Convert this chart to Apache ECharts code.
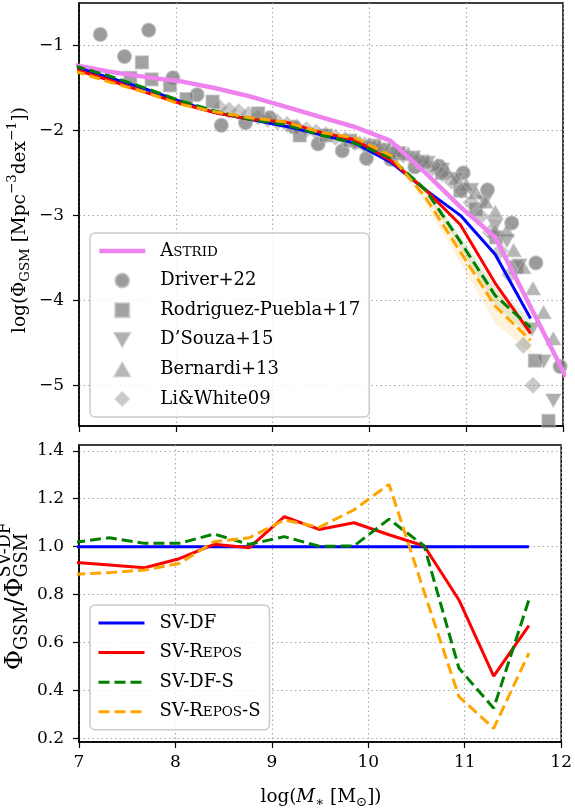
<!DOCTYPE html>
<html>
<head>
<meta charset="utf-8">
<script src="https://cdn.jsdelivr.net/npm/echarts@6/dist/echarts.min.js"></script>
<style>
html,body{margin:0;padding:0;background:#fff;}
#chart{width:575px;height:808px;}
</style>
</head>
<body>
<div id="chart"></div>
<script>
// ---------------- data ----------------
const massBins = [6.95, 7.315, 7.68, 8.04, 8.40, 8.765, 9.13, 9.49, 9.85, 10.215, 10.58, 10.94, 11.30, 11.665];
const astridX = [6.95, 7.315, 7.68, 8.04, 8.40, 8.765, 9.13, 9.49, 9.85, 10.215, 10.58, 10.94, 11.30, 11.665, 12.03];
const astridY = [-1.23, -1.31, -1.37, -1.42, -1.50, -1.60, -1.72, -1.84, -1.96, -2.12, -2.50, -2.90, -3.26, -4.08, -4.90];

const gsmSVDF      = [-1.25, -1.38, -1.51, -1.655, -1.79, -1.87, -1.95, -2.05, -2.15, -2.37, -2.70, -3.00, -3.46, -4.215];
const gsmSVRepos   = [-1.28, -1.41, -1.55, -1.68, -1.79, -1.87, -1.90, -2.02, -2.11, -2.35, -2.70, -3.11, -3.80, -4.39];
const gsmSVDFS     = [-1.24, -1.36, -1.50, -1.65, -1.77, -1.87, -1.93, -2.05, -2.15, -2.32, -2.70, -3.31, -3.945, -4.32];
const gsmSVReposS  = [-1.30, -1.43, -1.55, -1.69, -1.78, -1.85, -1.90, -2.02, -2.09, -2.29, -2.79, -3.43, -4.07, -4.47];

const bandX        = [10.215, 10.58, 10.94, 11.30, 11.665];
const bandReposSLo = [-2.31, -2.86, -3.56, -4.27, -4.62];
const bandReposSHi = [-2.27, -2.72, -3.30, -3.87, -4.32];
const bandDFSLo    = [-2.34, -2.74, -3.38, -4.05, -4.42];
const bandDFSHi    = [-2.30, -2.66, -3.24, -3.84, -4.22];

const ratioSVDF     = [1, 1, 1, 1, 1, 1, 1, 1, 1, 1, 1, 1, 1, 1];
const ratioSVRepos  = [0.935, 0.924, 0.9125, 0.95, 1.01, 0.996, 1.125, 1.072, 1.10, 1.05, 1.003, 0.778, 0.461, 0.671];
const ratioSVDFS    = [1.018, 1.0375, 1.014, 1.014, 1.053, 1.01, 1.042, 1.002, 1.003, 1.115, 1.003, 0.493, 0.327, 0.778];
const ratioSVReposS = [0.885, 0.892, 0.903, 0.93, 1.021, 1.0375, 1.111, 1.081, 1.153, 1.26, 0.81, 0.375, 0.243, 0.556];

const driverX = [7.22, 7.47, 7.72, 7.97, 8.22, 8.47, 8.72, 8.97, 9.22, 9.47, 9.72, 9.97, 10.22, 10.47, 10.72, 10.97, 11.22, 11.47, 11.72, 11.97];
const driverY = [-0.87, -1.13, -0.82, -1.38, -1.58, -1.94, -1.91, -1.85, -1.96, -2.16, -2.24, -2.33, -2.34, -2.43, -2.42, -2.50, -2.70, -3.09, -3.56, -4.78];

const rodriguezX = [7.53, 7.65, 7.75, 7.94, 8.11, 8.38, 8.85, 9.28, 9.55, 9.80, 10.05, 10.30, 10.55, 10.75, 10.94, 11.10, 11.31, 11.52, 11.71, 11.85];
const rodriguezY = [-1.38, -1.20, -1.40, -1.47, -1.63, -1.66, -1.80, -2.06, -2.06, -2.12, -2.18, -2.27, -2.37, -2.50, -2.71, -2.93, -3.26, -3.61, -4.71, -5.42];

const dsouzaX = [10.00, 10.15, 10.30, 10.45, 10.60, 10.75, 10.90, 11.05, 11.19, 11.30, 11.42, 11.55, 11.68, 11.80, 11.90];
const dsouzaY = [-2.20, -2.23, -2.27, -2.32, -2.38, -2.46, -2.57, -2.70, -2.84, -3.12, -3.30, -3.59, -4.34, -4.72, -5.18];

const bernardiX = [9.9, 10.0, 10.1, 10.2, 10.3, 10.4, 10.5, 10.6, 10.7, 10.8, 10.9, 11.0, 11.1, 11.2, 11.3, 11.3, 11.42, 11.49, 11.59, 11.69, 11.80, 11.90];
const bernardiY = [-2.14, -2.16, -2.18, -2.21, -2.24, -2.27, -2.31, -2.36, -2.41, -2.48, -2.56, -2.64, -2.73, -2.84, -2.96, -3.18, -3.18, -3.41, -3.61, -3.86, -4.14, -4.45];

const liWhiteX = [8.45, 8.55, 8.65, 8.75, 8.85, 8.95, 9.05, 9.15, 9.25, 9.35, 9.45, 9.55, 9.65, 9.75, 9.85, 9.95, 10.05, 10.15, 10.25, 10.35, 10.45, 10.55, 10.65, 10.75, 10.85, 10.95, 11.05, 11.15, 11.25, 11.35, 11.45, 11.59, 11.69, 11.76];
const liWhiteY = [-1.73, -1.76, -1.78, -1.81, -1.84, -1.87, -1.90, -1.93, -1.96, -1.99, -2.02, -2.05, -2.08, -2.11, -2.14, -2.17, -2.20, -2.23, -2.26, -2.29, -2.33, -2.38, -2.44, -2.51, -2.60, -2.71, -2.85, -3.01, -3.20, -3.42, -3.70, -4.53, -5.00, -5.49];

const xTicks = [7, 8, 9, 10, 11, 12];
const yTicksTop = [-5, -4, -3, -2, -1];
const yTicksBottom = [0.2, 0.4, 0.6, 0.8, 1.0, 1.2, 1.4];

// ---------------- helpers ----------------
const FF = 'DejaVu Serif';
const zip = (xs, ys) => xs.map((x, i) => [x, ys[i]]);
const measureCtx = document.createElement('canvas').getContext('2d');
function textGroup(segs, cx, cy, rot, target) {
  let x = 0, hold = null;
  const kids = [];
  segs.forEach(s => {
    measureCtx.font = (s.it ? 'italic ' : '') + s.s + 'px "' + FF + '"';
    const w = measureCtx.measureText(s.t).width;
    const x0 = hold ? hold.x : x;
    kids.push({type: 'text', x: x0, y: s.dy || 0, silent: true,
      style: {text: s.t, fontSize: s.s, fontFamily: FF, fontStyle: s.it ? 'italic' : 'normal',
              fill: '#000', align: 'left', verticalAlign: 'middle'}});
    if (s.hold) { hold = {x: x, w: w}; }
    else if (hold) { x = hold.x + Math.max(hold.w, w); hold = null; }
    else { x += w; }
  });
  kids.forEach(k => { k.x -= x / 2; });
  const k = target ? target / x : 1;
  return {type: 'group', x: cx, y: cy, rotation: rot, scaleX: k, scaleY: k, children: kids};
}
const minusFmt = v => (v < 0 ? '\u2212' + Math.abs(v) : String(v));

const SYM_SQUARE = 'path://M0,0L10,0L10,10L0,10Z';
const SYM_TRI_UP = 'path://M5,0L10,8.66L0,8.66Z';
const SYM_TRI_DOWN = 'path://M0,0L10,0L5,8.66Z';
const SYM_DIAMOND = 'path://M5,0L10,5L5,10L0,5Z';
const DASH = [11, 5];

const gridLine = {show: true, lineStyle: {type: [1.5, 3], color: '#a8a8a8', width: 1.2}};
const tickStyle = {show: true, inside: false, length: 6, lineStyle: {color: '#000', width: 1.2}};
const labelStyle = {fontFamily: FF, fontSize: 17, color: '#000'};

function bandSeries(lo, hi, fill) {
  return {
    type: 'custom', xAxisIndex: 0, yAxisIndex: 0, silent: true, z: 1,
    data: bandX.map((x, i) => [x, lo[i], hi[i]]),
    renderItem: (params, api) => {
      if (params.dataIndex !== 0) return null;
      const pts = [];
      for (let i = 0; i < bandX.length; i++) pts.push(api.coord([bandX[i], hi[i]]));
      for (let i = bandX.length - 1; i >= 0; i--) pts.push(api.coord([bandX[i], lo[i]]));
      return {type: 'polygon', shape: {points: pts}, style: {fill: fill}};
    }
  };
}
function lineSeries(name, xs, ys, color, width, dashed, xi, z) {
  return {
    name: name, type: 'line', xAxisIndex: xi, yAxisIndex: xi, data: zip(xs, ys),
    symbol: 'none', showSymbol: false, z: z, clip: true,
    lineStyle: {color: color, width: width, type: dashed ? DASH : 'solid'},
    itemStyle: {color: color}
  };
}
function scatterSeries(name, xs, ys, symbol, size, opacity) {
  return {
    name: name, type: 'scatter', xAxisIndex: 0, yAxisIndex: 0, data: zip(xs, ys),
    symbol: symbol, symbolSize: size, symbolKeepAspect: true, z: 2,
    itemStyle: {color: '#7a7a7a', opacity: opacity, borderColor: '#bdbdbd', borderWidth: 1.2}
  };
}
const lineItem = (n, w, dashed) => ({name: n, itemStyle: {opacity: 0},
  lineStyle: {width: w, type: dashed ? DASH : 'solid'}});

const legendBase = {
  orient: 'vertical', left: 90, itemWidth: 46, itemHeight: 14, itemGap: 9.6,
  padding: [8, 9, 8, 7], borderColor: '#cccccc', borderWidth: 1.5, borderRadius: 5,
  backgroundColor: 'rgba(255,255,255,0.8)', selectedMode: false, symbolKeepAspect: true,
  textStyle: {fontFamily: FF, fontSize: 18, color: '#000', lineHeight: 20, padding: [0, 0, 0, 10],
    rich: {a: {fontFamily: FF, fontSize: 18, lineHeight: 20, verticalAlign: 'middle'},
           s: {fontFamily: FF, fontSize: 13.5, lineHeight: 18, verticalAlign: 'middle', padding: [2, 0, 0, 0]}}}
};

const option = {
  animation: false,
  backgroundColor: '#fff',
  grid: [
    {left: 79, right: 12, top: 3, height: 423, show: true, borderColor: '#000', borderWidth: 1.5, backgroundColor: 'transparent'},
    {left: 79, right: 12, top: 445, height: 297, show: true, borderColor: '#000', borderWidth: 1.5, backgroundColor: 'transparent'}
  ],
  xAxis: [0, 1].map(i => ({
    gridIndex: i, type: 'value', min: 7, max: 12, interval: 1,
    axisLine: {show: true, lineStyle: {color: '#000', width: 1.5}},
    axisTick: tickStyle,
    axisLabel: Object.assign({show: i === 1, margin: 12, customValues: xTicks}, labelStyle),
    splitLine: gridLine
  })),
  yAxis: [
    {gridIndex: 0, type: 'value', min: -5.48, max: -0.5,
     axisLine: {show: true, lineStyle: {color: '#000', width: 1.5}},
     axisTick: Object.assign({customValues: yTicksTop}, tickStyle),
     axisLabel: Object.assign({customValues: yTicksTop, formatter: minusFmt, margin: 15}, labelStyle),
     splitLine: gridLine},
    {gridIndex: 1, type: 'value', min: 0.186, max: 1.424,
     axisLine: {show: true, lineStyle: {color: '#000', width: 1.5}},
     axisTick: Object.assign({customValues: yTicksBottom}, tickStyle),
     axisLabel: Object.assign({customValues: yTicksBottom, formatter: v => v.toFixed(1), margin: 15}, labelStyle),
     splitLine: gridLine}
  ],
  legend: [
    Object.assign({}, legendBase, {top: 233,
      data: [lineItem('Astrid', 4.5, false), 'Driver+22', 'Rodriguez-Puebla+17', 'D\u2019Souza+15', 'Bernardi+13', 'Li&White09'],
      formatter: n => n === 'Astrid' ? '{a|A}{s|STRID}' : n}),
    Object.assign({}, legendBase, {top: 605,
      data: [lineItem('SV-DF', 3, false), lineItem('SV-Repos', 3, false), lineItem('SV-DF-S', 3, true), lineItem('SV-Repos-S', 3, true)],
      formatter: n => n === 'SV-Repos' ? '{a|SV-R}{s|EPOS}' : (n === 'SV-Repos-S' ? '{a|SV-R}{s|EPOS}{a|-S}' : n)})
  ],
  series: [
    bandSeries(bandReposSLo, bandReposSHi, 'rgba(255,165,0,0.14)'),
    bandSeries(bandDFSLo, bandDFSHi, 'rgba(0,128,0,0.10)'),
    scatterSeries('Driver+22', driverX, driverY, 'circle', 14, 0.75),
    scatterSeries('Rodriguez-Puebla+17', rodriguezX, rodriguezY, SYM_SQUARE, 13, 0.7),
    scatterSeries('D\u2019Souza+15', dsouzaX, dsouzaY, SYM_TRI_DOWN, 15, 0.6),
    scatterSeries('Bernardi+13', bernardiX, bernardiY, SYM_TRI_UP, 15, 0.55),
    scatterSeries('Li&White09', liWhiteX, liWhiteY, SYM_DIAMOND, 16, 0.4),
    lineSeries('Astrid', astridX, astridY, '#ee82ee', 4.5, false, 0, 3),
    lineSeries('SV-DF', massBins, gsmSVDF, '#0000ff', 3, false, 0, 4),
    lineSeries('SV-Repos', massBins, gsmSVRepos, '#ff0000', 3, false, 0, 4),
    lineSeries('SV-DF-S', massBins, gsmSVDFS, '#008000', 3, true, 0, 4),
    lineSeries('SV-Repos-S', massBins, gsmSVReposS, '#ffa500', 3, true, 0, 4),
    lineSeries('SV-DF', massBins, ratioSVDF, '#0000ff', 3, false, 1, 4),
    lineSeries('SV-Repos', massBins, ratioSVRepos, '#ff0000', 3, false, 1, 4),
    lineSeries('SV-DF-S', massBins, ratioSVDFS, '#008000', 3, true, 1, 4),
    lineSeries('SV-Repos-S', massBins, ratioSVReposS, '#ffa500', 3, true, 1, 4)
  ],
  graphic: [
    textGroup([{t: 'log(\u03A6', s: 18}, {t: 'GSM', s: 13, dy: 5}, {t: ' [Mpc', s: 18},
               {t: '\u22123', s: 13, dy: -7}, {t: 'dex', s: 18}, {t: '\u22121', s: 13, dy: -7}, {t: '])', s: 18}],
              20, 220, Math.PI / 2, 226),
    textGroup([{t: '\u03A6', s: 18}, {t: 'GSM', s: 13, dy: 5}, {t: '/\u03A6', s: 18},
               {t: 'SV-DF', s: 13, dy: -8, hold: true}, {t: 'GSM', s: 13, dy: 5}],
              16, 596, Math.PI / 2, 148),
    textGroup([{t: 'log(', s: 18}, {t: 'M', s: 18, it: true}, {t: '\u2217', s: 13, dy: 5}, {t: ' [M', s: 18},
               {t: '\u2299', s: 13, dy: 5}, {t: '])', s: 18}],
              321, 797, 0, 121)
  ]
};

const chart = echarts.init(document.getElementById('chart'), null, {renderer: 'canvas'});
chart.setOption(option);
</script>
</body>
</html>
